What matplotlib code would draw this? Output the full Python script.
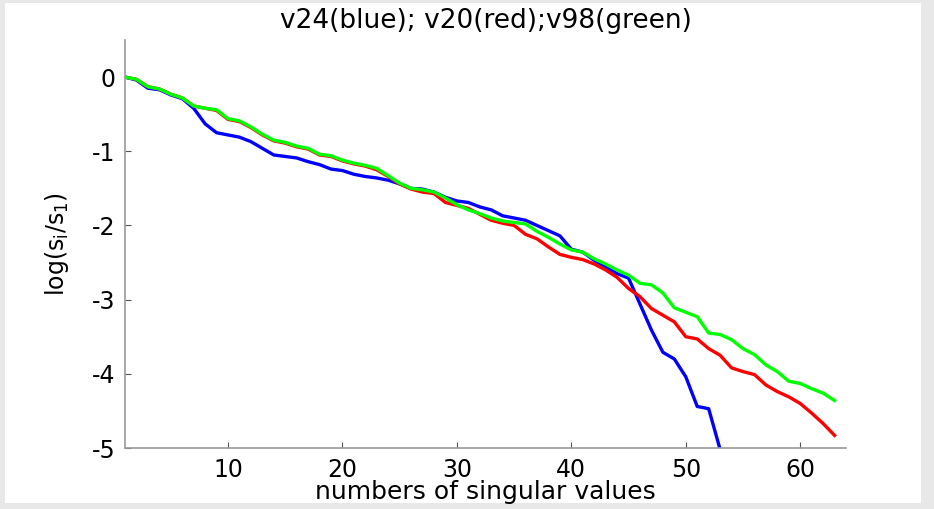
import numpy as np
import matplotlib
matplotlib.use("Agg")
import matplotlib.pyplot as plt
from matplotlib.patches import Rectangle

# log of normalised singular values for three signals
idx_v24 = list(range(1, 54))
v24 = [0.00, -0.04, -0.15, -0.17, -0.24, -0.29, -0.42, -0.63, -0.75, -0.78,
       -0.81, -0.87, -0.96, -1.05, -1.07, -1.09, -1.14, -1.18, -1.24, -1.26,
       -1.31, -1.34, -1.36, -1.39, -1.44, -1.50, -1.51, -1.55, -1.62, -1.67,
       -1.69, -1.75, -1.79, -1.87, -1.90, -1.93, -2.00, -2.07, -2.14, -2.32,
       -2.36, -2.47, -2.56, -2.65, -2.71, -3.06, -3.41, -3.71, -3.80, -4.04,
       -4.44, -4.47, -5.02]

idx_v20 = list(range(1, 64))
v20 = [0.00, -0.03, -0.13, -0.16, -0.23, -0.28, -0.39, -0.42, -0.45, -0.57,
       -0.60, -0.68, -0.78, -0.86, -0.89, -0.94, -0.97, -1.05, -1.07, -1.13,
       -1.17, -1.20, -1.25, -1.34, -1.44, -1.51, -1.55, -1.57, -1.69, -1.73,
       -1.77, -1.85, -1.93, -1.97, -2.00, -2.12, -2.18, -2.29, -2.39, -2.43,
       -2.46, -2.52, -2.60, -2.70, -2.85, -2.96, -3.12, -3.21, -3.30, -3.50,
       -3.53, -3.66, -3.75, -3.92, -3.97, -4.01, -4.15, -4.24, -4.31, -4.40,
       -4.53, -4.67, -4.83]

idx_v98 = list(range(1, 64))
v98 = [0.00, -0.03, -0.13, -0.16, -0.23, -0.28, -0.39, -0.42, -0.44, -0.56,
       -0.59, -0.67, -0.77, -0.85, -0.88, -0.93, -0.96, -1.04, -1.06, -1.12,
       -1.16, -1.19, -1.23, -1.33, -1.43, -1.50, -1.52, -1.55, -1.63, -1.72,
       -1.79, -1.84, -1.90, -1.94, -1.96, -1.98, -2.08, -2.16, -2.25, -2.33,
       -2.36, -2.45, -2.52, -2.60, -2.67, -2.78, -2.80, -2.91, -3.11, -3.17,
       -3.23, -3.45, -3.47, -3.54, -3.66, -3.74, -3.88, -3.97, -4.10, -4.13,
       -4.20, -4.26, -4.36]

x_ticks = [10, 20, 30, 40, 50, 60]
y_ticks = [0, -1, -2, -3, -4, -5]

plt.rcParams["font.family"] = ["DejaVu Sans"]
plt.rcParams["axes.unicode_minus"] = False
plt.rcParams["mathtext.default"] = "regular"

W, H = 934, 509
fig = plt.figure(figsize=(W / 100, H / 100), dpi=100, facecolor="#e8e8e8")
# white canvas inside a thin grey frame
fig.patches.append(Rectangle((5 / W, 6 / H), (921 - 5) / W, (506 - 6) / H,
                             transform=fig.transFigure, facecolor="white",
                             edgecolor="none", zorder=-10))

ax = fig.add_axes([125 / W, 1 - 448 / H, (846 - 125) / W, (448 - 40) / H])
ax.set_facecolor("none")
ax.set_zorder(5)

lw = 2.4
ax.plot(idx_v24, v24, color="#0000ff", lw=lw)
ax.plot(idx_v20, v20, color="#ff0000", lw=lw)
ax.plot(idx_v98, v98, color="#00ff00", lw=lw)

ax.set_xlim(1, 64)
ax.set_ylim(-5, 0.5)
ax.set_xticks(x_ticks)
ax.set_yticks(y_ticks)

for side in ("top", "right"):
    ax.spines[side].set_visible(False)
for side in ("left", "bottom"):
    ax.spines[side].set_color("#9a9a9a")
    ax.spines[side].set_linewidth(1.2)

ax.tick_params(direction="in", length=4, width=0.8, color="#555555",
               labelsize=17, pad=7, labelcolor="black")

ax.set_title("v24(blue); v20(red);v98(green)", fontsize=19, pad=9)
ax.set_xlabel("numbers of singular values", fontsize=18, labelpad=-1)
ax.set_ylabel("log(s$_i$/s$_1$)", fontsize=17, labelpad=15)

fig.savefig("out.png", dpi=100, facecolor=fig.get_facecolor())
